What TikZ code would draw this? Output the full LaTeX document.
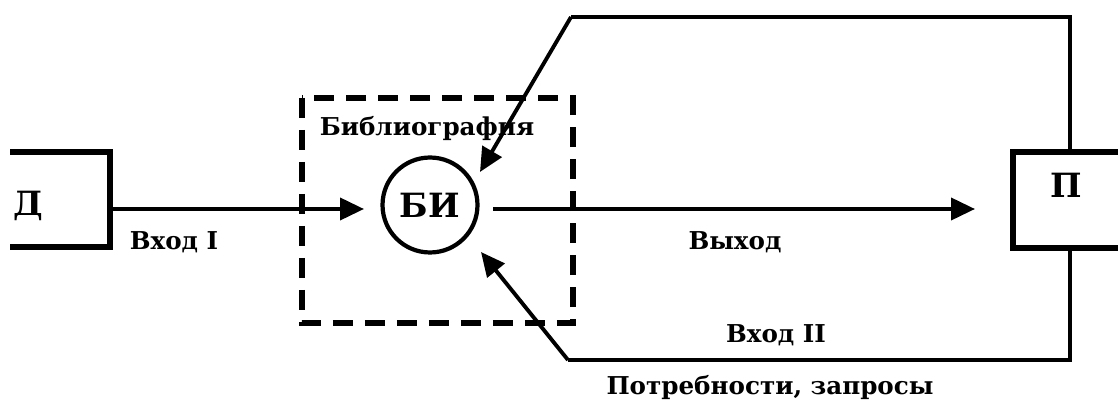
\documentclass[tikz,border=0pt]{standalone}
\usepackage{fontspec}
\setmainfont{DejaVu Serif}
\usetikzlibrary{arrows.meta}
\begin{document}
\begin{tikzpicture}[x=0.02cm,y=-0.02cm,
  lbl/.style={font=\fontsize{14}{16}\selectfont\bfseries,inner sep=0pt},
  big/.style={font=\fontsize{19}{21}\selectfont\bfseries,inner sep=0pt},
  box/.style={line width=3.2pt,line cap=rect},
  arr/.style={line width=2.2pt,-{Triangle[length=0.48cm,width=0.44cm]}},
  wire/.style={line width=2.2pt}]
\def\yMid{209}
\def\yTop{17}
\def\yBot{360}
\def\xP{1070}
\useasboundingbox (0,0) rectangle (1118,408);
%\draw[help lines,step=50] (0,0) grid (1118,408);

% boxes
\draw[box] (13,152) -- (110,152) -- (110,247) -- (13,247);
\draw[box] (1118,152) -- (1013,152) -- (1013,248) -- (1118,248);
\draw[line width=3.2pt,dash pattern=on 0.4cm off 0.24cm] (302,98) rectangle (573,323);

\path
(28,206) node [big] (D) {Д}
(1066,185) node [big] (P) {П}
(430,205) node [big,draw,circle,line width=2.4pt,minimum size=1.9cm] (BI) {БИ}
(427,129) node [lbl] (bib) {Библиография}
(174,242) node [lbl] (vhod1) {Вход I}
(735,242) node [lbl] (vyhod) {Выход}
(776,335) node [lbl] (vhod2) {Вход II}
(770,388) node [lbl] (potr) {Потребности, запросы}
;

\coordinate (dR) at (110,\yMid);
\coordinate (biIn) at (364,\yMid);
\coordinate (biOut) at (493,\yMid);
\coordinate (pIn) at (975,\yMid);
\coordinate (pTop) at (\xP,152);
\coordinate (pBot) at (\xP,248);
\coordinate (cTop) at (571,\yTop);
\coordinate (cBot) at (568,\yBot);
\coordinate (biNE) at (480,172);
\coordinate (biSE) at (481,252);

\begin{scope}[every path/.style=draw]
\path[arr] (dR) -- (biIn);
\path[arr] (biOut) -- (pIn);
\path[wire] (pTop) |- (cTop);
\path[arr] (cTop) -- (biNE);
\path[wire] (pBot) |- (cBot);
\path[arr] (cBot) -- (biSE);
\end{scope}
\end{tikzpicture}
\end{document}
